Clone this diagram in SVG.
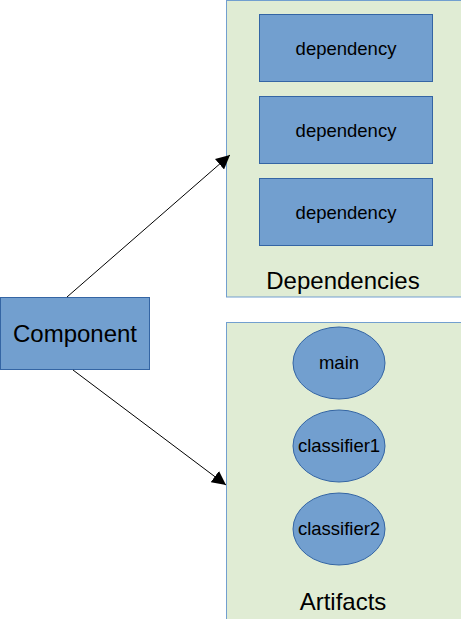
<svg xmlns="http://www.w3.org/2000/svg" width="461" height="619" viewBox="0 0 461 619">
<style>
.grp{fill:#e0ecd4;stroke:#729fcf;stroke-width:1}
.node{fill:#729fcf;stroke:#3465a4;stroke-width:1}
text{font-family:"Liberation Sans",Arial,sans-serif;fill:#000;text-anchor:middle}
.small{font-size:18.5px}
.big{font-size:24px}
.conn{stroke:#000;stroke-width:1;fill:none}
</style>
<defs>
<marker id="arr" viewBox="0 0 10 10" refX="10" refY="5" markerWidth="14" markerHeight="14" markerUnits="userSpaceOnUse" orient="auto">
<path d="M0,0 L10,5 L0,10 z" fill="#000"/>
</marker>
</defs>
<g id="dependencies">
<rect class="grp" x="226.5" y="0.5" width="240" height="296.5"/>
<text class="big" x="343" y="289">Dependencies</text>
</g>
<g id="dep1"><rect class="node" x="259.5" y="14.5" width="173" height="67"/><text class="small" x="346" y="55">dependency</text></g>
<g id="dep2"><rect class="node" x="259.5" y="96.5" width="173" height="67"/><text class="small" x="346" y="137">dependency</text></g>
<g id="dep3"><rect class="node" x="259.5" y="178.5" width="173" height="67"/><text class="small" x="346" y="219">dependency</text></g>
<g id="artifacts">
<rect class="grp" x="226.5" y="322.5" width="240" height="300"/>
<text class="big" x="343" y="610">Artifacts</text>
</g>
<g id="main"><ellipse class="node" cx="339" cy="363" rx="46" ry="36"/><text class="small" x="339" y="369">main</text></g>
<g id="classifier1"><ellipse class="node" cx="339" cy="446" rx="46" ry="36"/><text class="small" x="339" y="452">classifier1</text></g>
<g id="classifier2"><ellipse class="node" cx="339" cy="529" rx="46" ry="36"/><text class="small" x="339" y="535">classifier2</text></g>
<g id="component"><rect class="node" x="0.5" y="297.5" width="149" height="72"/><text class="big" x="75" y="342">Component</text></g>
<g id="connectors">
<line class="conn" x1="67" y1="297" x2="230" y2="155" marker-end="url(#arr)"/>
<line class="conn" x1="73" y1="370" x2="226" y2="485" marker-end="url(#arr)"/>
</g>
</svg>
